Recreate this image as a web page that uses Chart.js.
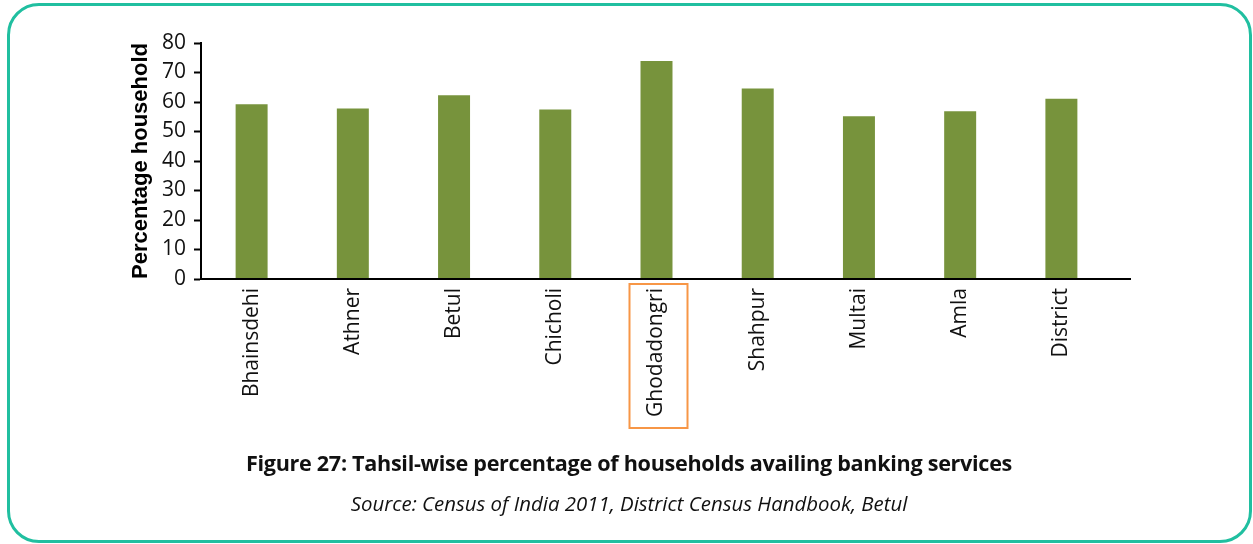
<!DOCTYPE html>
<html>
<head>
<meta charset="utf-8">
<script src="https://cdn.jsdelivr.net/npm/chart.js@4"></script>
<style>
  html, body { margin: 0; padding: 0; background: #fff; }
  #wrap { position: relative; width: 1253px; height: 544px; overflow: hidden; }
  #frame { position: absolute; left: 7px; top: 3px; width: 1239px; height: 534px; border: 3px solid #20BFA0; border-radius: 32px; box-sizing: content-box; }
  #cv { position: absolute; left: 0; top: 0; }
  .cap { position: absolute; left: 0; width: 1258px; text-align: center; color: #111; font-family: "Open Sans", sans-serif; }
  #title { top: 448px; font-size: 21.6px; font-weight: bold; letter-spacing: -0.3px; }
  #source { top: 489px; font-size: 20.4px; font-style: italic; }
</style>
</head>
<body>
<div id="wrap">
  <div id="frame"></div>
  <canvas id="cv" width="1253" height="544"></canvas>
  <div class="cap" id="title">Figure 27: Tahsil-wise percentage of households availing banking services</div>
  <div class="cap" id="source">Source: Census of India 2011, District Census Handbook, Betul</div>
</div>
<script>
const categories = ["Bhainsdehi", "Athner", "Betul", "Chicholi", "Ghodadongri", "Shahpur", "Multai", "Amla", "District"];
const values = [59.2, 57.8, 62.3, 57.5, 73.9, 64.6, 55.2, 56.9, 61.1];
const yTicks = [0, 10, 20, 30, 40, 50, 60, 70, 80];
const yTitle = "Percentage household";
const highlighted = "Ghodadongri";

const extras = {
  id: 'extras',
  afterDraw(chart) {
    const ctx = chart.ctx;
    const x = chart.scales.x;
    const y = chart.scales.y;
    const base = y.getPixelForValue(0);
    ctx.save();
    ctx.strokeStyle = '#000';
    ctx.lineWidth = 2;
    ctx.beginPath();
    ctx.moveTo(chart.chartArea.left, base);
    ctx.lineTo(chart.chartArea.right + 19, base);
    ctx.stroke();
    const idx = categories.indexOf(highlighted);
    const cx = x.getPixelForValue(idx);
    ctx.strokeStyle = '#F79646';
    ctx.lineWidth = 2;
    ctx.strokeRect(cx - 27, base + 5, 58, 144);
    ctx.restore();
  }
};

new Chart(document.getElementById('cv'), {
  type: 'bar',
  data: {
    labels: categories,
    datasets: [{
      data: values,
      backgroundColor: '#77933C',
      borderWidth: 0,
      categoryPercentage: 1,
      barPercentage: 0.316
    }]
  },
  options: {
    responsive: false,
    animation: false,
    devicePixelRatio: 1,
    layout: { padding: { left: 120, right: 141, top: 43, bottom: 0 } },
    plugins: { legend: { display: false }, tooltip: { enabled: false } },
    scales: {
      x: {
        grid: { display: false, drawTicks: false },
        border: { display: false },
        ticks: {
          color: '#111',
          font: { family: 'Open Sans', size: 21 },
          minRotation: 90, maxRotation: 90,
          padding: 9,
          autoSkip: false
        },
        afterFit(s) { s.height = 265; }
      },
      y: {
        min: 0, max: 80,
        afterBuildTicks(s) { s.ticks = yTicks.map(v => ({ value: v })); },
        grid: { drawOnChartArea: false, drawTicks: true, tickLength: 7, color: '#000', tickWidth: 2 },
        border: { display: true, color: '#000', width: 2 },
        ticks: {
          color: '#111',
          font: { family: 'Open Sans', size: 21 },
          padding: 8
        },
        title: {
          display: true,
          text: yTitle,
          color: '#000',
          font: { family: 'Liberation Sans', size: 22, weight: 'bold' },
          padding: { top: 8, bottom: 0 }
        },
        afterFit(s) { s.width = 81; }
      }
    }
  },
  plugins: [extras]
});
</script>
</body>
</html>
